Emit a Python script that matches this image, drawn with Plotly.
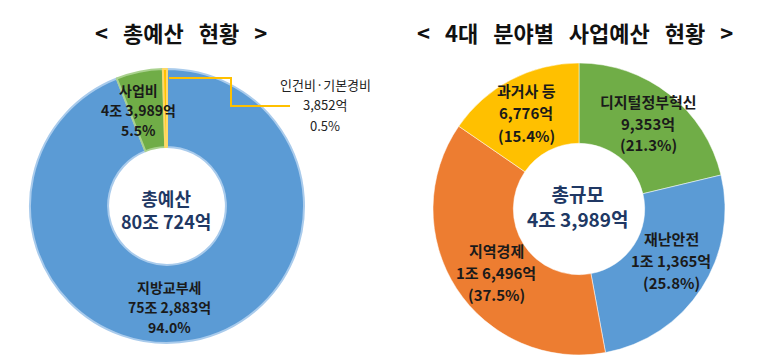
import plotly.graph_objects as go

W, H = 766, 363

# ---- data ----
left_titles = "< 총예산 현황 >"
right_title = "< 4대 분야별 사업예산 현황 >"

left_labels = ["지방교부세", "사업비", "인건비·기본경비"]
left_values = [752883, 43989, 3852]          # 억원
left_colors = ["#5B9BD5", "#70AD47", "#FFC000"]
left_edge = ["#A9CBEC", "#A9D18E", "#FFD966"]
left_center = ["총예산", "80조 724억"]

right_labels = ["디지털정부혁신", "재난안전", "지역경제", "과거사 등"]
right_values = [9353, 11365, 16496, 6776]    # 억원
right_colors = ["#70AD47", "#5B9BD5", "#ED7D31", "#FFC000"]
right_center = ["총규모", "4조 3,989억"]


def fmt_won(v):
    jo, eok = divmod(v, 10000)
    s = f"{eok:,}억"
    return f"{jo}조 {s}" if jo else s


def px(x, y):
    return x / W, 1 - y / H


def dom(cx, cy, r):
    return dict(x=[(cx - r) / W, (cx + r) / W], y=[1 - (cy + r) / H, 1 - (cy - r) / H])


fig = go.Figure()

fig.add_trace(go.Pie(
    labels=left_labels, values=left_values, sort=False, direction="clockwise",
    rotation=0, hole=0.43, textinfo="none", hoverinfo="label+value+percent",
    marker=dict(colors=left_colors, line=dict(color=left_edge, width=2)),
    domain=dom(159, 198, 137), showlegend=False,
))
fig.add_trace(go.Pie(
    labels=right_labels, values=right_values, sort=False, direction="clockwise",
    rotation=0, hole=0.45, textinfo="none", hoverinfo="label+value+percent",
    marker=dict(colors=right_colors, line=dict(color="#FFFFFF", width=0.5)),
    domain=dom(571, 201, 146), showlegend=False,
))

ann = []
FONT = "Noto Sans CJK KR"


def add_lines(cx, y0, dy, lines, size, color, weight="bold"):
    for i, t in enumerate(lines):
        x, y = px(cx, y0 + i * dy)
        ann.append(dict(x=x, y=y, xref="paper", yref="paper", text=t, showarrow=False,
                        xanchor="center", yanchor="middle", borderpad=0,
                        font=dict(family=FONT, size=size, color=color, weight=weight)))


def add_block(cx, cy, lines, size, color, weight="bold"):
    x, y = px(cx, cy)
    ann.append(dict(x=x, y=y, xref="paper", yref="paper", text="<br>".join(lines),
                    showarrow=False, xanchor="center", yanchor="middle", align="center",
                    borderpad=0,
                    font=dict(family=FONT, size=size, color=color, weight=weight)))


NB = "\u00a0"
# titles
add_lines(173, 24, 0, [left_titles.replace(" ", NB * 3)], 22, "#111111")
add_lines(567, 24, 0, [right_title.replace(" ", NB * 3)], 22, "#111111")

lt = sum(left_values)
lpct = [f"{v / lt * 100:.1f}%" for v in left_values]
rt = sum(right_values)
rpct = [f"({v / rt * 100:.1f}%)" for v in right_values]

# left labels
left_pos = [(161, 279), (130, 82), (317, 76)]
for i, (cx, cy) in enumerate(left_pos):
    lines = [left_labels[i], fmt_won(left_values[i]), lpct[i]]
    if i == 2:
        add_lines(cx, cy, 21, lines, 13, "#222222", weight="normal")
    else:
        add_lines(cx, cy, 20, lines, 14, "#1a1a1a")
add_block(158, 202, left_center, 18, "#1F3864")

# right labels
right_pos = [(640, 93), (663, 230), (488, 242), (518, 83)]
for i, (cx, cy) in enumerate(right_pos):
    lines = [right_labels[i], fmt_won(right_values[i]), rpct[i]]
    add_lines(cx, cy, 22, lines, 15, "#1a1a1a")
add_block(570, 198, right_center, 19, "#203864")

# leader line for 인건비·기본경비
pts = [(161, 70), (223, 70), (223, 98), (282, 98)]
path = "M " + " L ".join(f"{px(x, y)[0]},{px(x, y)[1]}" for x, y in pts)
fig.update_layout(
    shapes=[dict(type="path", path=path, xref="paper", yref="paper",
                 line=dict(color="#FFC000", width=2))],
    annotations=ann,
    width=W, height=H, margin=dict(l=0, r=0, t=0, b=0),
    paper_bgcolor="white", plot_bgcolor="white",
    font=dict(family=FONT),
)

fig.write_html("out.html")
